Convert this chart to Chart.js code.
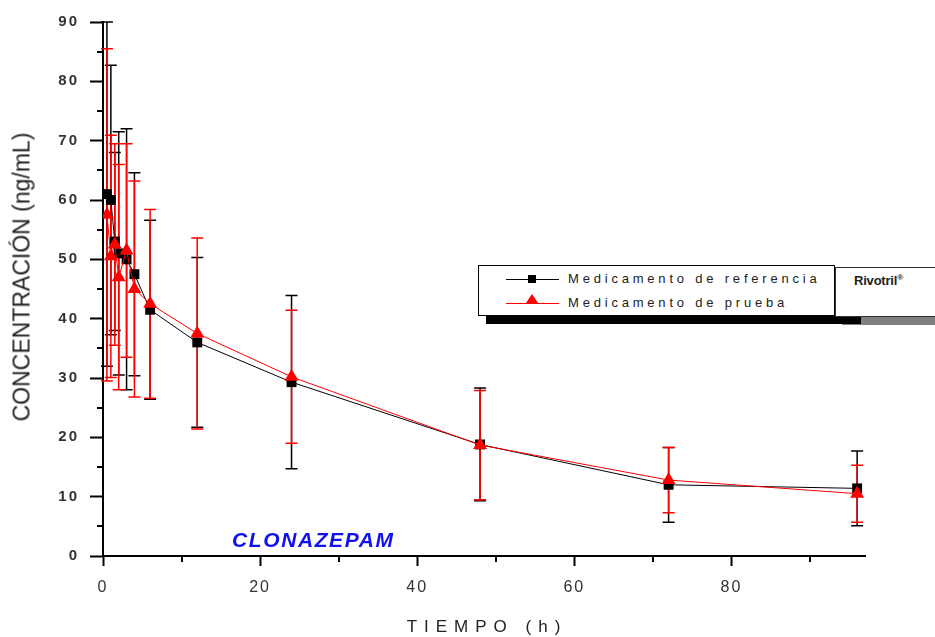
<!DOCTYPE html>
<html>
<head>
<meta charset="utf-8">
<script src="https://cdn.jsdelivr.net/npm/chart.js@4.4.1/dist/chart.umd.min.js"></script>
<style>
  html, body { margin: 0; padding: 0; background: #fff; }
  #wrap { position: relative; width: 935px; height: 637px; overflow: hidden; font-family: "Liberation Sans", Arial, sans-serif; }
  #c { position: absolute; left: 0; top: 0; }
  .abs { position: absolute; }
  #ytitle { left: 22px; top: 277px; transform: translate(-50%, -50%) rotate(-90deg); font-size: 23px; color: #222; white-space: nowrap; }
  #xtitle { left: 487px; top: 627px; transform: translate(-50%, -50%); font-size: 17px; letter-spacing: 7px; color: #222; white-space: nowrap; }
  #drug { left: 232px; top: 528px; font-size: 21px; font-weight: bold; font-style: italic; color: #1010f0; letter-spacing: 1.6px; white-space: nowrap; }
  #shadow1 { left: 486px; top: 274px; width: 375px; height: 50px; background: #000; }
  #shadow2 { left: 842px; top: 276px; width: 100px; height: 49px; background: #808080; }
  #legbox { left: 478px; top: 265px; width: 355px; height: 49px; background: #fff; border: 1.5px solid #000; }
  #rivbox { left: 835px; top: 267px; width: 110px; height: 48px; background: #fff; border: 1px solid #333; }
  #rivtxt { left: 854px; top: 273px; font-size: 13px; font-weight: bold; color: #222; white-space: nowrap; letter-spacing: -0.2px; }
  .ltxt { left: 568px; font-size: 13px; letter-spacing: 3.8px; color: #222; white-space: nowrap; }
  .lline { left: 506px; width: 53px; height: 1px; }
</style>
</head>
<body>
<div id="wrap">
  <canvas id="c" width="935" height="637"></canvas>
  <div id="ytitle" class="abs">CONCENTRACIÓN (ng/mL)</div>
  <div id="xtitle" class="abs">TIEMPO (h)</div>
  <div id="drug" class="abs">CLONAZEPAM</div>
  <div id="shadow2" class="abs"></div>
  <div id="shadow1" class="abs"></div>
  <div id="legbox" class="abs"></div>
  <div id="rivbox" class="abs"></div>
  <div id="rivtxt" class="abs">Rivotril<sup style="font-size:8px">®</sup></div>
  <div class="abs lline" style="top:279px;background:#000"></div>
  <div class="abs" style="left:528px;top:275px;width:8px;height:8px;background:#000"></div>
  <div class="abs ltxt" style="top:271px">Medicamento de referencia</div>
  <div class="abs lline" style="top:303px;background:#f00"></div>
  <div class="abs" style="left:526px;top:294px;width:0;height:0;border-left:6px solid transparent;border-right:6px solid transparent;border-bottom:9px solid #f00"></div>
  <div class="abs ltxt" style="top:295px">Medicamento de prueba</div>
</div>
<script>
// ---- data ----
const times    = [0.5, 1, 1.5, 2, 3, 4, 6, 12, 24, 48, 72, 96];
const refMean  = [61, 60, 53, 51, 50, 47.5, 41.5, 36, 29.3, 18.8, 12, 11.4];
const refSD    = [29, 22.7, 15, 20.5, 22, 17.1, 15.1, 14.3, 14.6, 9.5, 6.3, 6.3];
const testMean = [57.5, 50.5, 52.5, 47, 51.5, 45, 42.5, 37.5, 30.2, 18.7, 12.8, 10.5];
const testSD   = [28, 20.4, 17, 19, 18, 18.2, 15.9, 16.1, 11.2, 9.2, 5.5, 4.8];
const xTickLabels = [0, 20, 40, 60, 80];
const yTickLabels = [0, 10, 20, 30, 40, 50, 60, 70, 80, 90];

const refPts  = times.map((t, i) => ({ x: t, y: refMean[i] }));
const testPts = times.map((t, i) => ({ x: t, y: testMean[i] }));

const errorBars = {
  id: 'errorBars',
  beforeDatasetsDraw(chart) {
    const { ctx, scales: { x, y } } = chart;
    const sets = [[refMean, refSD, '#000'], [testMean, testSD, '#ff0000']];
    ctx.save();
    ctx.lineWidth = 1.5;
    for (const [m, sd, col] of sets) {
      ctx.strokeStyle = col;
      times.forEach((t, i) => {
        const px = x.getPixelForValue(t);
        const top = y.getPixelForValue(m[i] + sd[i]);
        const bot = y.getPixelForValue(m[i] - sd[i]);
        ctx.beginPath();
        ctx.moveTo(px, top); ctx.lineTo(px, bot);
        ctx.moveTo(px - 6, top); ctx.lineTo(px + 6, top);
        ctx.moveTo(px - 6, bot); ctx.lineTo(px + 6, bot);
        ctx.stroke();
      });
    }
    ctx.restore();
  }
};

const minorTicks = {
  id: 'minorTicks',
  beforeDraw(chart) { chart.ctx.letterSpacing = '2px'; },
  afterDraw(chart) {
    const { ctx, scales: { x, y }, chartArea } = chart;
    ctx.save();
    ctx.letterSpacing = '0px';
    ctx.strokeStyle = '#000';
    ctx.lineWidth = 2;
    ctx.beginPath();
    for (let v = 5; v < 90; v += 10) {
      const py = Math.round(y.getPixelForValue(v));
      ctx.moveTo(chartArea.left - 6, py); ctx.lineTo(chartArea.left, py);
    }
    for (let v = 10; v <= 90; v += 20) {
      const px = Math.round(x.getPixelForValue(v));
      ctx.moveTo(px, chartArea.bottom); ctx.lineTo(px, chartArea.bottom + 6);
    }
    ctx.stroke();
    ctx.restore();
  }
};

new Chart(document.getElementById('c'), {
  type: 'line',
  data: {
    datasets: [
      {
        label: 'Medicamento de referencia',
        data: refPts,
        borderColor: '#000',
        backgroundColor: '#000',
        borderWidth: 1,
        pointStyle: 'rect',
        pointRadius: 7,
        pointBorderWidth: 0,
        order: 2,
        tension: 0
      },
      {
        label: 'Medicamento de prueba',
        data: testPts,
        borderColor: '#ff0000',
        backgroundColor: '#ff0000',
        borderWidth: 1,
        pointStyle: 'triangle',
        pointRadius: 8,
        pointBorderWidth: 0,
        order: 1,
        tension: 0
      }
    ]
  },
  options: {
    responsive: false,
    animation: false,
    events: [],
    layout: { padding: { left: 0, right: 70, top: 22, bottom: 0 } },
    plugins: { legend: { display: false }, tooltip: { enabled: false } },
    scales: {
      x: {
        type: 'linear',
        min: 0,
        max: 97,
        afterFit(s) { s.height = 81; },
        border: { display: true, color: '#000', width: 2 },
        grid: {
          drawOnChartArea: false,
          drawTicks: true,
          tickLength: 10,
          tickWidth: 2,
          tickColor: c => xTickLabels.includes(c.tick.value) ? '#000' : 'rgba(0,0,0,0)'
        },
        ticks: {
          stepSize: 10,
          includeBounds: false,
          maxRotation: 0,
          autoSkip: false,
          padding: 12,
          color: '#333',
          font: { family: 'Liberation Sans', size: 16 },
          callback: v => xTickLabels.includes(v) ? String(v) : ''
        }
      },
      y: {
        type: 'linear',
        min: 0,
        max: 90,
        afterFit(s) { s.width = 103; },
        border: { display: true, color: '#000', width: 2 },
        grid: {
          drawOnChartArea: false,
          drawTicks: true,
          tickLength: 13,
          tickWidth: 2,
          tickColor: c => yTickLabels.includes(c.tick.value) ? '#000' : 'rgba(0,0,0,0)'
        },
        ticks: {
          stepSize: 5,
          autoSkip: false,
          padding: 11,
          color: '#333',
          font: { family: 'Liberation Sans', size: 15, weight: 'bold' },
          callback: v => yTickLabels.includes(v) ? String(v) : ''
        }
      }
    }
  },
  plugins: [errorBars, minorTicks]
});
</script>
</body>
</html>
